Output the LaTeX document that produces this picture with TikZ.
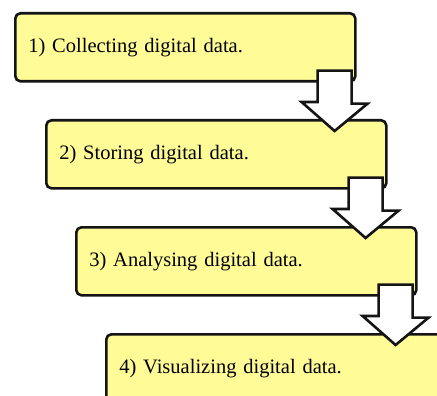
\documentclass[tikz,border=0pt]{standalone}
\usepackage{fontspec}
\setmainfont{Liberation Serif}
\usetikzlibrary{calc}
\definecolor{stepyellow}{HTML}{FFFC98}
\definecolor{ink}{HTML}{141414}
\tikzset{
  stepbox/.style={draw=ink, line width=2.6pt, rounded corners=1.8mm, fill=stepyellow, anchor=north west,
    minimum height=68pt, text width=314pt, inner xsep=13pt, align=left, font=\fontsize{20.5}{24}\selectfont},
  blockarrow/.style={draw=ink, line width=2.6pt, fill=white, line join=miter}
}
\begin{document}
\begin{tikzpicture}[x=1pt, y=-1pt]
  \clip (0,0) rectangle (437,396);
  \useasboundingbox (0,0) rectangle (437,396);
  % the four steps
  \node[stepbox] (s1) at (14,12) {1) Collecting digital data.};
  \node[stepbox] (s2) at (45,119) {2) Storing digital data.};
  \node[stepbox] (s3) at (75,226) {3) Analysing digital data.};
  \node[stepbox] (s4) at (105,333) {4) Visualizing digital data.};
  % hollow arrows between them
  \foreach \a/\b in {s1/s2, s2/s3, s3/s4}
    \draw[blockarrow] ($(\a.south east)+(-39,-12)$) -- ++(34,0) -- ++(0,33) -- ++(16,0)
      -- ($(\a.south east |- \b.north)+(-22,12)$) -- ++(-33,-29) -- ++(16,0) -- cycle;
\end{tikzpicture}
\end{document}
